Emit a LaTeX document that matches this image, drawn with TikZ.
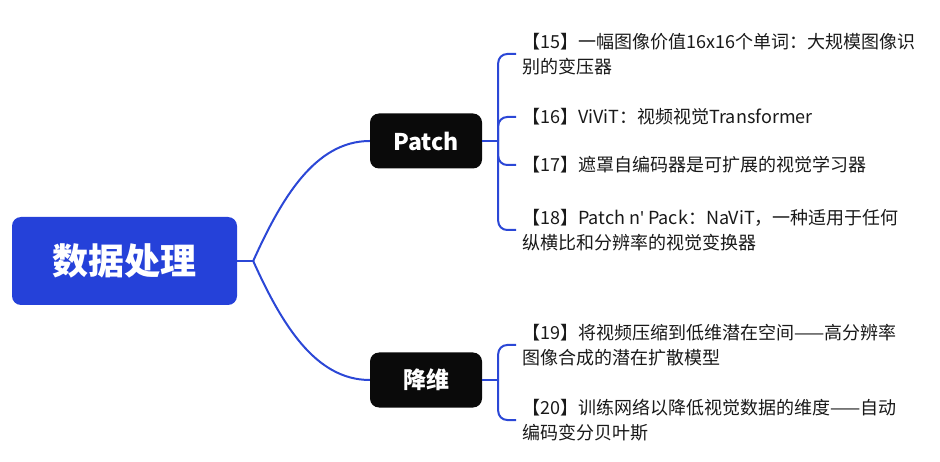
\documentclass[tikz,border=0pt]{standalone}
\usepackage{fontspec}
\setmainfont{Noto Sans CJK SC}
\newfontfamily\latinfont{Noto Sans}
\usepackage{tikz}
\definecolor{mapblue}{HTML}{2541D9}
\definecolor{lineblue}{HTML}{2B47D6}
\definecolor{boxblack}{HTML}{0A0A0A}

\begin{document}
\begin{tikzpicture}[x=1pt, y=-1pt,
    rootbox/.style={fill=mapblue, rounded corners=9pt, minimum width=225pt, minimum height=88pt,
      text=white, font=\fontsize{36}{40}\selectfont\bfseries},
    topicbox/.style={fill=boxblack, rounded corners=9pt, minimum width=112pt, minimum height=55pt,
      text=white, font=\fontsize{23}{26}\selectfont\bfseries},
    leaf/.style={anchor=west, align=left, inner xsep=6pt, inner ysep=2pt,
      text=black!90, font=\fontsize{18}{25}\selectfont},
    branch/.style={draw=lineblue, line width=2pt, rounded corners=9pt}]
			\useasboundingbox (0,0) rectangle (940,462);
			\node[rootbox] (main) at (124.5,261) {数据处理};
			\node[topicbox] (patch) at (426,141) {Patch};
			\node[topicbox] (reduce) at (426,380) {降维};
			\node[leaf] (p15) at (516,54) {【15】一幅图像价值16x16个单词：大规模图像识\\别的变压器};
			\node[leaf] (p16) at (516,117) {【16】ViViT：视频视觉Transformer};
			\node[leaf] (p17) at (516,165) {【17】遮罩自编码器是可扩展的视觉学习器};
			\node[leaf] (p18) at (516,230) {【18】Patch n{\latinfont'} Pack：NaViT，一种适用于任何\\纵横比和分辨率的视觉变换器};
			\node[leaf] (p19) at (516,345) {【19】将视频压缩到低维潜在空间——高分辨率\\图像合成的潜在扩散模型};
			\node[leaf] (p20) at (516,420) {【20】训练网络以降低视觉数据的维度——自动\\编码变分贝叶斯};
			% root to topics
			\draw[branch] (main.east) -- ++(16,0) coordinate (mj);
			\draw[branch, rounded corners=0pt] (mj) .. controls +(28,-62) and +(-55,0) .. (patch.west);
			\draw[branch, rounded corners=0pt] (mj) .. controls +(28,62) and +(-55,0) .. (reduce.west);
			% topics to papers
			\draw[branch] (patch.east) -- ++(16,0) coordinate (pj);
			\foreach \leafname in {p15,p16,p17,p18}
				\draw[branch] (pj) |- (\leafname.west);
			\draw[branch] (reduce.east) -- ++(16,0) coordinate (rj);
			\foreach \leafname in {p19,p20}
				\draw[branch] (rj) |- (\leafname.west);
		\end{tikzpicture}
\end{document}
